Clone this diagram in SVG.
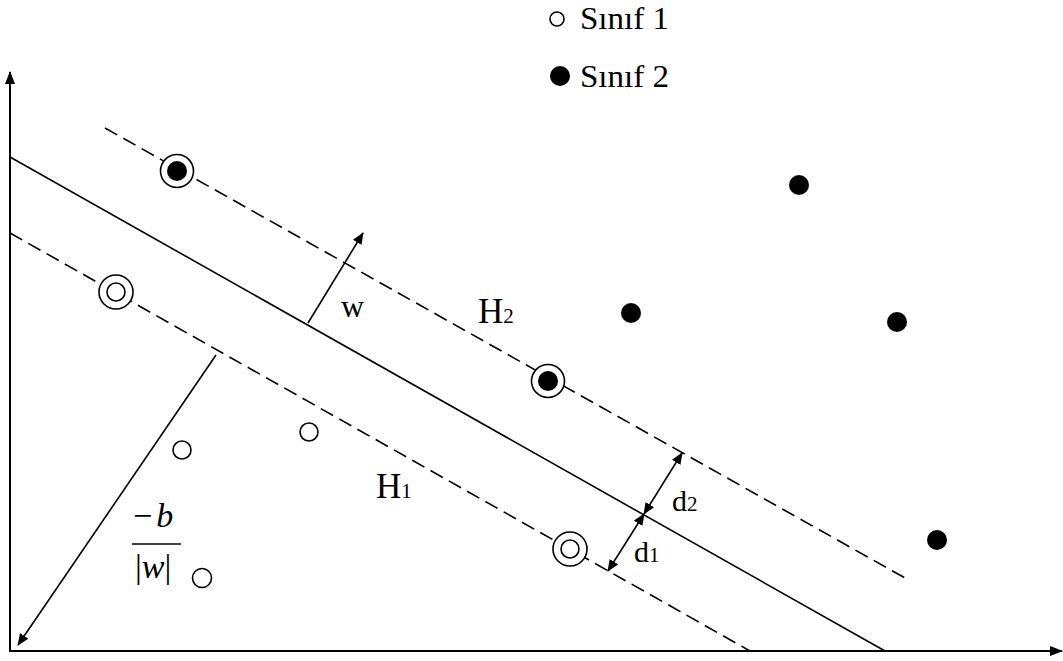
<svg xmlns="http://www.w3.org/2000/svg" width="1063" height="661" viewBox="0 0 1063 661">
<style>
.ln{stroke:#000;stroke-width:1.6;fill:none}
.dash{stroke:#000;stroke-width:1.6;fill:none;stroke-dasharray:14 7}
.ax{stroke:#000;stroke-width:2;fill:none}
.t{font-family:"Liberation Serif","Times New Roman",serif;fill:#000}
.hol{fill:#fff;stroke:#000;stroke-width:1.6}
.fil{fill:#000}
</style>
<defs>
<marker id="ah" viewBox="0 0 12 10" refX="11" refY="5" markerWidth="12" markerHeight="10" markerUnits="userSpaceOnUse" orient="auto-start-reverse">
<path d="M0,0 L12,5 L0,10 Z" fill="#000"/>
</marker>
<marker id="axh" viewBox="0 0 13 10" refX="12" refY="5" markerWidth="13" markerHeight="10" markerUnits="userSpaceOnUse" orient="auto">
<path d="M0,0 L13,5 L0,10 Z" fill="#000"/>
</marker>
</defs>
<g id="connectors">
<line class="ax" x1="10" y1="652" x2="10" y2="72" marker-end="url(#axh)"/>
<line class="ax" x1="9" y1="651" x2="1062" y2="651" marker-end="url(#axh)"/>
<line id="hyperplane" class="ln" x1="10" y1="157" x2="885" y2="651"/>
<line id="H2-line" class="dash" x1="105" y1="128" x2="905" y2="578"/>
<line id="H1-line" class="dash" x1="10" y1="233" x2="750" y2="651"/>
<line id="w-arrow" class="ln" x1="308" y1="323" x2="363" y2="233" marker-end="url(#ah)"/>
<line id="b-arrow" class="ln" x1="216" y1="355" x2="18" y2="645" marker-end="url(#ah)"/>
<line id="d2-arrow" class="ln" x1="644" y1="514" x2="682" y2="453" marker-start="url(#ah)" marker-end="url(#ah)"/>
<line id="d1-arrow" class="ln" x1="644" y1="514" x2="608" y2="571" marker-start="url(#ah)" marker-end="url(#ah)"/>
</g>
<g id="legend">
<circle class="hol" cx="557" cy="19" r="7"/>
<text class="t" x="580" y="29" font-size="31" textLength="89" lengthAdjust="spacingAndGlyphs">Sınıf 1</text>
<circle class="fil" cx="560" cy="76" r="10"/>
<text class="t" x="580" y="87" font-size="31" textLength="89" lengthAdjust="spacingAndGlyphs">Sınıf 2</text>
</g>
<g id="sv-class2-a"><circle class="hol" cx="177" cy="171" r="16.5"/><circle class="fil" cx="177" cy="171" r="10"/></g>
<g id="sv-class2-b"><circle class="hol" cx="548" cy="381" r="16.5"/><circle class="fil" cx="548" cy="381" r="10"/></g>
<g id="sv-class1-a"><circle class="hol" cx="116" cy="292" r="17"/><circle class="hol" cx="116" cy="292" r="9"/></g>
<g id="sv-class1-b"><circle class="hol" cx="570" cy="549" r="17"/><circle class="hol" cx="570" cy="549" r="9"/></g>
<g id="class1-a"><circle class="hol" cx="182" cy="450" r="9"/></g>
<g id="class1-b"><circle class="hol" cx="309" cy="432" r="9"/></g>
<g id="class1-c"><circle class="hol" cx="202" cy="578" r="9.5"/></g>
<g id="class2-a"><circle class="fil" cx="799" cy="185" r="10"/></g>
<g id="class2-b"><circle class="fil" cx="631" cy="313" r="10"/></g>
<g id="class2-c"><circle class="fil" cx="897" cy="322" r="10"/></g>
<g id="class2-d"><circle class="fil" cx="937" cy="540" r="10"/></g>
<g id="labels">
<text class="t" x="341" y="317" font-size="32">w</text>
<text class="t" x="478" y="323" font-size="35">H<tspan font-size="21">2</tspan></text>
<text class="t" x="376" y="498" font-size="35">H<tspan font-size="21">1</tspan></text>
<text class="t" x="672" y="511" font-size="30">d<tspan font-size="21">2</tspan></text>
<text class="t" x="634" y="562" font-size="30">d<tspan font-size="21">1</tspan></text>
<text class="t" x="133" y="527" font-size="34">−<tspan font-style="italic" dx="4">b</tspan></text>
<line class="ln" x1="132" y1="544" x2="181" y2="544"/>
<text class="t" x="135" y="578" font-size="34">|<tspan font-style="italic">w</tspan>|</text>
</g>
</svg>
